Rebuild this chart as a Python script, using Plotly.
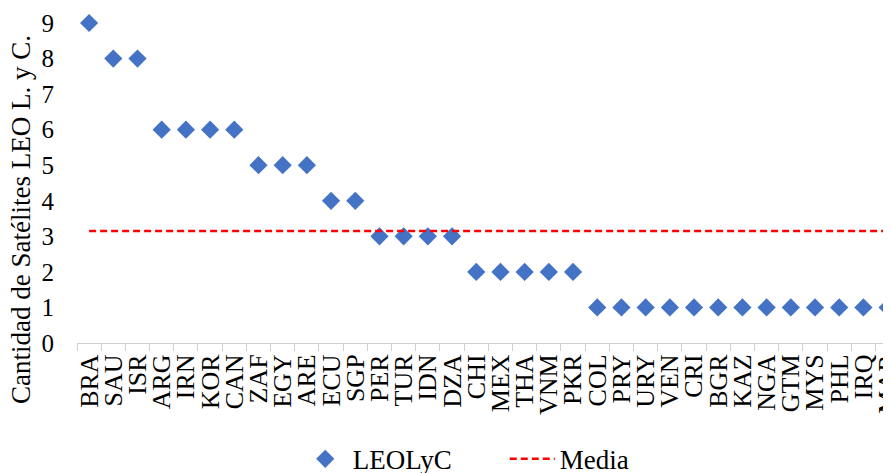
import plotly.graph_objects as go

countries = ["BRA", "SAU", "ISR", "ARG", "IRN", "KOR", "CAN", "ZAF", "EGY", "ARE",
             "ECU", "SGP", "PER", "TUR", "IDN", "DZA", "CHI", "MEX", "THA", "VNM",
             "PKR", "COL", "PRY", "URY", "VEN", "CRI", "BGR", "KAZ", "NGA", "GTM",
             "MYS", "PHL", "IRQ", "MAR"]
leolyc = [9, 8, 8, 6, 6, 6, 6, 5, 5, 5,
          4, 4, 3, 3, 3, 3, 2, 2, 2, 2,
          2, 1, 1, 1, 1, 1, 1, 1, 1, 1,
          1, 1, 1, 1]
y_ticks = [0, 1, 2, 3, 4, 5, 6, 7, 8, 9]
media_value = sum(leolyc) / len(leolyc)
media = [media_value] * len(countries)

FONT = "Liberation Serif"

fig = go.Figure()
fig.add_trace(go.Scatter(
    x=countries, y=leolyc, mode="markers", name="LEOLyC",
    marker=dict(symbol="diamond", color="#4472C4", size=14),
    cliponaxis=False,
))
fig.add_trace(go.Scatter(
    x=countries, y=media, mode="lines", name="Media",
    line=dict(color="#FF0000", width=2.5, dash="7px,4px"),
))

fig.update_layout(
    width=891, height=473,
    margin=dict(l=69, r=8, t=15, b=138),
    plot_bgcolor="white", paper_bgcolor="white",
    font=dict(family=FONT, color="black", size=24),
    showlegend=True,
    legend=dict(orientation="h", xref="container", x=0.3252, xanchor="left",
                yref="container", y=0.046, yanchor="middle",
                font=dict(size=27, family=FONT), entrywidth=147, itemwidth=45,
                traceorder="normal"),
    xaxis=dict(
        type="category", range=[-0.5, 33.14], automargin=False,
        tickmode="array", tickvals=countries, ticktext=countries,
        tickson="boundaries", ticks="outside", ticklen=7, tickcolor="#D0D0D0",
        showline=True, linecolor="#D0D0D0", linewidth=1,
        showgrid=False, tickangle=-90, ticklabelstandoff=0,
        tickfont=dict(size=26, family=FONT),
    ),
    yaxis=dict(
        range=[0, 9], tickmode="array", tickvals=y_ticks, showgrid=False,
        zeroline=False, showline=False, ticks="", ticklabelstandoff=22,
        automargin="left",
        tickfont=dict(size=25, family=FONT),
    ),
    annotations=[dict(
        text="Cantidad de Satélites LEO L. y C.", textangle=-90,
        xref="paper", yref="paper", x=-0.0688, y=0.3875,
        xanchor="center", yanchor="middle", showarrow=False,
        font=dict(size=27, family=FONT, color="black"),
    )],
)

fig.write_html("out.html")
